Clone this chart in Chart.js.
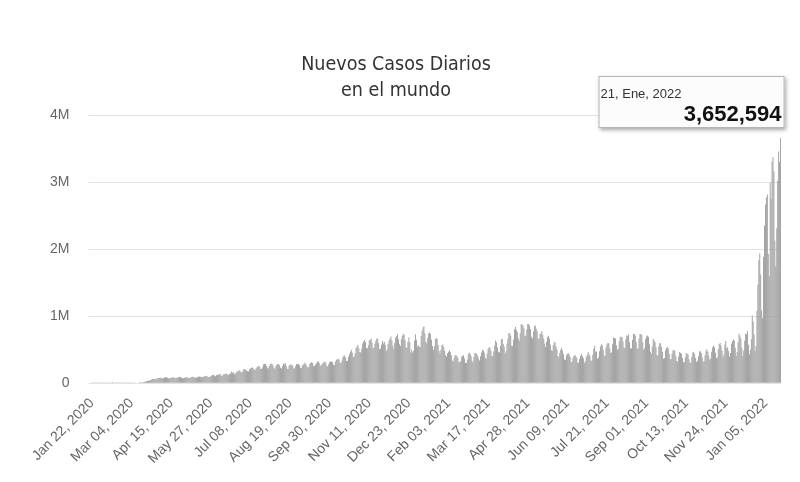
<!DOCTYPE html>
<html>
<head>
<meta charset="utf-8">
<script src="https://cdn.jsdelivr.net/npm/chart.js@4/dist/chart.umd.min.js"></script>
<style>
html,body{margin:0;padding:0;background:#ffffff;}
#wrap{position:relative;width:800px;height:482px;}
</style>
</head>
<body>
<div id="wrap"><canvas id="c" width="800" height="482"></canvas></div>
<script>
// ---- DATA ----
const titleLines = ['Nuevos Casos Diarios', 'en el mundo'];
const startDate = '2020-01-22';
const tickLabels = ['Jan 22, 2020','Mar 04, 2020','Apr 15, 2020','May 27, 2020','Jul 08, 2020','Aug 19, 2020',
  'Sep 30, 2020','Nov 11, 2020','Dec 23, 2020','Feb 03, 2021','Mar 17, 2021','Apr 28, 2021','Jun 09, 2021',
  'Jul 21, 2021','Sep 01, 2021','Oct 13, 2021','Nov 24, 2021','Jan 05, 2022'];
const yTickLabels = ['0','1M','2M','3M','4M'];
const tooltipDate = '21, Ene, 2022';
// daily new cases, in thousands (one row per week, Wed..Tue)
const dailyCases = [
0.6,0.1,0.3,0.5,0.7,0.8,1.4,
1.7,2.0,2.1,2.6,2.8,3.2,3.9,
3.7,3.2,3.4,2.7,2.6,2.3,2.0,
2.0,15.2,6.5,2.1,2.6,2.1,2.0,
0.5,1.0,0.6,1.0,1.1,0.7,1.1,
1.2,1.4,1.9,2.0,1.8,2.4,1.7,
2.2,2.7,2.9,4.0,3.8,4.4,4.6,
7.1,2.7,16.5,10.9,11.3,14.3,15.8,
18.9,26.0,32.0,32.1,33.8,40.4,42.3,
49.3,62.3,62.8,65.6,61.3,58.4,74.4,
77.1,78.0,84.3,82.1,72.4,68.7,76.0,
81.3,86.6,90.2,82.0,76.2,71.5,72.9,
79.4,84.8,86.5,83.3,77.5,74.0,78.6,
82.7,86.3,96.7,90.1,79.5,74.6,74.3,
79.6,84.9,88.9,87.2,77.1,75.3,78.4,
91.3,92.0,96.5,90.3,79.7,80.2,84.6,
90.6,95.5,100.3,96.6,86.1,86.0,93.7,
100.2,105.7,109.2,104.3,92.8,90.5,94.6,
104.5,112.4,121.5,123.8,110.2,101.7,118.4,
123.9,128.5,129.9,134.4,110.9,107.1,123.8,
134.9,139.6,137.4,140.8,127.1,122.5,144.8,
141.5,175.2,154.6,163.1,130.9,142.4,162.4,
172.2,180.2,193.5,186.1,161.8,162.4,176.5,
211.6,206.1,199.1,190.1,176.3,172.7,205.4,
218.9,226.3,235.8,223.3,198.1,195.9,223.2,
236.6,249.4,259.7,242.0,210.8,215.3,237.8,
280.4,286.9,289.2,261.1,228.1,217.7,255.7,
287.1,292.3,286.4,263.4,224.5,210.6,253.2,
275.7,286.0,284.6,265.3,229.3,217.1,255.4,
293.0,286.3,295.8,255.0,215.7,212.0,263.8,
275.6,280.6,268.0,262.4,218.1,221.8,253.8,
285.1,281.3,287.0,266.2,228.8,225.4,262.5,
279.2,286.7,307.3,276.3,247.3,232.4,240.4,
285.5,300.6,315.5,300.3,260.2,251.3,276.3,
293.9,318.4,324.8,299.0,260.6,265.9,286.8,
299.8,312.7,323.5,302.5,258.9,249.3,281.6,
316.8,323.5,323.3,314.7,275.6,268.1,320.3,
349.4,354.3,362.4,351.8,303.8,301.7,333.1,
383.4,408.8,412.9,380.8,330.6,333.2,392.3,
430.4,466.9,498.1,451.5,390.8,398.5,447.6,
522.5,544.8,573.0,521.6,464.1,456.9,512.1,
589.9,622.3,642.4,612.1,525.3,519.7,564.6,
638.2,648.8,665.0,601.4,517.9,531.2,590.9,
632.9,665.1,660.8,594.1,505.4,518.3,572.0,
632.9,590.3,618.2,568.8,477.8,507.0,583.5,
637.5,667.6,694.4,637.7,560.5,512.2,600.5,
675.7,698.5,730.3,654.1,578.8,553.3,653.0,
706.5,736.3,722.9,640.2,532.1,527.4,618.0,
685.4,613.3,455.4,501.1,457.2,480.2,637.7,
727.4,648.1,547.6,570.5,537.9,539.4,703.3,
780.2,832.3,845.1,743.4,618.9,594.7,681.8,
743.6,754.1,733.3,645.9,554.2,494.3,545.5,
654.3,671.5,662.5,572.3,481.8,440.7,499.2,
570.3,575.2,541.1,481.5,415.5,395.8,444.7,
469.9,489.3,461.1,414.3,336.7,322.8,377.8,
418.8,416.7,401.5,375.0,314.9,312.7,330.0,
394.3,407.4,414.4,367.5,305.9,302.1,351.9,
439.6,454.7,435.0,399.7,333.0,305.1,389.4,
446.6,450.0,440.1,410.0,365.4,337.1,402.0,
458.2,497.5,482.5,452.0,376.5,368.8,442.0,
510.1,538.5,526.8,481.9,409.0,406.6,471.7,
560.7,636.4,609.8,531.3,468.5,458.8,553.3,
654.6,662.4,588.3,548.3,439.3,476.3,590.3,
666.1,742.6,749.2,709.3,557.6,552.3,649.2,
802.0,836.0,792.5,762.0,670.3,627.9,745.6,
878.2,879.3,858.2,820.4,705.7,706.2,800.3,
881.3,881.4,858.0,808.8,691.8,667.0,770.3,
850.0,860.2,810.0,772.6,668.0,657.2,734.6,
745.2,777.6,721.8,660.9,590.9,538.8,616.1,
687.1,707.4,662.0,578.2,492.1,479.4,564.3,
606.2,608.5,551.2,506.4,403.3,387.1,452.8,
499.5,526.4,488.3,432.0,351.1,349.0,413.2,
437.7,444.0,428.2,391.5,314.5,324.0,380.1,
412.4,418.3,401.4,377.1,306.2,303.0,361.4,
408.9,432.4,402.3,370.3,300.1,327.8,389.1,
422.7,464.3,432.7,404.4,333.6,338.5,425.0,
513.8,556.0,476.9,466.4,362.6,383.2,476.2,
546.8,579.7,565.3,498.3,417.2,404.9,531.6,
575.5,600.0,593.8,517.1,451.2,460.0,580.3,
679.0,673.6,664.4,565.0,496.3,513.0,624.2,
690.7,686.0,690.4,620.0,525.8,526.3,654.2,
712.6,705.0,728.4,608.9,519.1,515.4,646.4,
731.9,732.2,711.2,618.3,518.4,517.5,664.9,
733.7,734.7,717.5,609.8,499.6,523.5,657.8,
694.3,710.8,691.2,581.0,469.3,437.1,545.0,
661.8,633.0,610.5,535.5,411.6,418.5,549.2,
597.6,590.8,540.2,466.8,363.2,373.1,486.7,
523.6,534.6,515.9,436.7,360.3,356.1,439.7,
488.3,499.0,480.8,399.8,331.3,321.6,393.5,
460.4,453.2,438.6,374.2,309.7,310.3,387.9,
449.4,439.4,429.5,355.0,309.0,305.9,391.9,
458.0,468.4,429.2,374.8,314.0,329.5,402.5,
473.0,475.4,448.4,383.8,320.6,330.9,414.6,
484.3,504.2,467.3,408.9,349.0,362.0,469.7,
530.9,560.9,534.7,453.8,370.8,385.0,504.2,
584.6,597.7,558.0,483.7,389.6,424.7,575.8,
628.4,519.1,534.1,475.8,392.4,449.1,586.8,
628.6,652.7,634.9,526.3,405.7,464.2,611.4,
735.4,712.0,661.3,527.5,405.9,485.8,633.0,
741.5,730.8,776.8,571.2,430.6,497.7,653.7,
1010.2,920.4,727.0,480.4,552.7,1080.0,1468.8,
1838.6,1935.0,1620.2,1082.4,968.0,1886.3,2350.4,
2661.2,2772.9,2814.7,1929.4,1593.7,2991.1,2750.6,
3307.6,3373.3,3161.7,2129.5,1745.5,2310.6,3014.2,
3457.2,3302.1,3652.594
];

// ---- categories (one per day) ----
const MONTHS = ['Jan','Feb','Mar','Apr','May','Jun','Jul','Aug','Sep','Oct','Nov','Dec'];
const categories = [];
{
  const d0 = new Date(startDate + 'T00:00:00Z');
  for (let i = 0; i < dailyCases.length; i++) {
    const d = new Date(d0.getTime() + i * 86400000);
    const dd = String(d.getUTCDate()).padStart(2, '0');
    categories.push(MONTHS[d.getUTCMonth()] + ' ' + dd + ', ' + d.getUTCFullYear());
  }
}

const TITLE_FONT = '"Liberation Sans Narrow","DejaVu Sans Condensed","Arial Narrow",sans-serif';

const overlay = {
  id: 'overlay',
  afterDraw(chart) {
    const ctx = chart.ctx;
    ctx.save();
    // title
    ctx.fillStyle = '#333333';
    ctx.textAlign = 'center';
    ctx.textBaseline = 'alphabetic';
    ctx.font = '19.5px ' + TITLE_FONT;
    ctx.fillText(titleLines[0], 396, 70);
    ctx.fillText(titleLines[1], 396, 96);

    // tooltip anchored to last bar
    const meta = chart.getDatasetMeta(0);
    const last = meta.data[meta.data.length - 1];
    const v = dailyCases[dailyCases.length - 1];
    const right = last.x + 4;
    const left = right - 186;
    const top = 76, h = 52;
    ctx.shadowColor = 'rgba(0,0,0,0.35)';
    ctx.shadowBlur = 4;
    ctx.shadowOffsetX = 1;
    ctx.shadowOffsetY = 2;
    ctx.fillStyle = '#fcfcfc';
    ctx.fillRect(left, top, right - left, h);
    ctx.shadowColor = 'transparent';
    ctx.strokeStyle = '#b5b5b5';
    ctx.lineWidth = 1;
    ctx.strokeRect(left + 0.5, top + 0.5, right - left - 1, h - 1);
    ctx.textAlign = 'left';
    ctx.fillStyle = '#333333';
    ctx.font = '13px "Liberation Sans", Arial, sans-serif';
    ctx.fillText(tooltipDate, left + 2, top + 22);
    ctx.textAlign = 'right';
    ctx.fillStyle = '#111111';
    ctx.font = 'bold 22px "Liberation Sans", Arial, sans-serif';
    ctx.fillText(Math.round(v * 1000).toLocaleString('en-US'), right - 3, top + 45);
    ctx.restore();
  }
};

new Chart(document.getElementById('c'), {
  type: 'bar',
  data: {
    labels: categories,
    datasets: [{
      data: dailyCases,
      backgroundColor: '#999999',
      borderWidth: 0,
      barPercentage: 1.0,
      categoryPercentage: 0.92
    }]
  },
  options: {
    responsive: false,
    animation: false,
    devicePixelRatio: 1,
    layout: { padding: { top: 115, left: 31, right: 19, bottom: 3 } },
    plugins: {
      legend: { display: false },
      title: { display: false },
      tooltip: { enabled: false }
    },
    scales: {
      x: {
        afterFit: function (scale) { scale.paddingLeft = 0; scale.paddingRight = 0; },
        grid: { display: false, drawTicks: false },
        border: { display: false },
        ticks: {
          autoSkip: false,
          minRotation: 45,
          maxRotation: 45,
          padding: 12,
          color: '#666666',
          font: { family: '"Liberation Sans", Arial, sans-serif', size: 14 },
          callback: function (value, index) {
            const lab = categories[index];
            return tickLabels.includes(lab) ? lab : null;
          }
        }
      },
      y: {
        min: 0,
        max: 4000,
        afterFit: function (scale) { scale.paddingTop = 0; scale.paddingBottom = 0; },
        grid: { color: '#e3e3e3', tickLength: 3 },
        border: { display: false },
        ticks: {
          stepSize: 1000,
          padding: 19,
          color: '#666666',
          font: { family: '"Liberation Sans", Arial, sans-serif', size: 14 },
          callback: function (value) { return yTickLabels[Math.round(value / 1000)]; }
        }
      }
    }
  },
  plugins: [overlay]
});
</script>
</body>
</html>
